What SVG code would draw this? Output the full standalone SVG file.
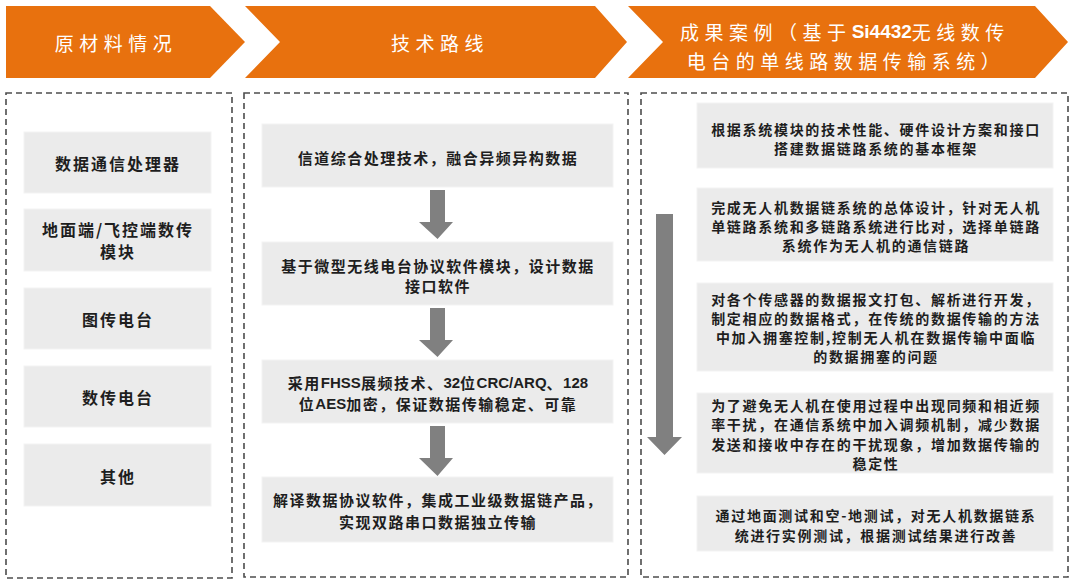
<svg xmlns="http://www.w3.org/2000/svg" width="1080" height="587" viewBox="0 0 1080 587">
<style>
.hdr{fill:#E8710E}
.ht{fill:#ffffff;font-family:"Noto Sans CJK SC","Noto Sans",sans-serif;font-size:19px;letter-spacing:5.5px;text-anchor:middle;dominant-baseline:central}
.frame{fill:none;stroke:#4d4d4d;stroke-width:1.6;stroke-dasharray:6 4}
.box{fill:#EBEBEB;stroke:#F3F3F3;stroke-width:1}
.tl{fill:#1e1e1e;font-family:"Noto Sans CJK SC","Noto Sans",sans-serif;font-weight:700;font-size:16px;letter-spacing:2px;text-anchor:middle;dominant-baseline:central}
.tm{fill:#1e1e1e;font-family:"Noto Sans CJK SC","Noto Sans",sans-serif;font-weight:700;font-size:15px;letter-spacing:1.5px;text-anchor:middle;dominant-baseline:central}
.tr{fill:#1e1e1e;font-family:"Noto Sans CJK SC","Noto Sans",sans-serif;font-weight:700;font-size:14px;letter-spacing:1.7px;text-anchor:middle;dominant-baseline:central}
.lat{font-family:"Liberation Sans",Arial,sans-serif;font-weight:700;letter-spacing:0}
.arr{fill:#808080}
</style>
<rect width="1080" height="587" fill="#ffffff"/>

<g id="header1">
<polygon class="hdr" points="6,6 210,6 245,42 210,78 6,78"/>
<text class="ht" x="116" y="42">原材料情况</text>
</g>
<g id="header2">
<polygon class="hdr" points="245,6 595,6 627,42 595,78 245,78 280,42"/>
<text class="ht" x="440" y="42">技术路线</text>
</g>
<g id="header3">
<polygon class="hdr" points="628,6 1035,6 1068,42 1035,78 628,78 663,42"/>
<text class="ht" x="845" y="31">成果案例（基于<tspan class="lat">Si4432</tspan>无线数传</text>
<text class="ht" x="846" y="60">电台的单线路数据传输系统）</text>
</g>

<g id="frame-materials"><rect class="frame" x="6" y="93" width="226" height="485"/></g>
<g id="frame-tech"><rect class="frame" x="244" y="93" width="384" height="484"/></g>
<g id="frame-results"><rect class="frame" x="641" y="93" width="427" height="484"/></g>

<g id="m1"><rect class="box" x="24" y="132" width="187" height="61"/><text class="tl" x="118" y="163">数据通信处理器</text></g>
<g id="m2"><rect class="box" x="24" y="209" width="187" height="62"/><text class="tl" x="118" y="229">地面端/飞控端数传</text><text class="tl" x="118" y="251">模块</text></g>
<g id="m3"><rect class="box" x="24" y="288" width="187" height="61"/><text class="tl" x="118" y="319">图传电台</text></g>
<g id="m4"><rect class="box" x="24" y="366" width="187" height="61"/><text class="tl" x="118" y="397">数传电台</text></g>
<g id="m5"><rect class="box" x="24" y="444" width="187" height="62"/><text class="tl" x="118" y="476">其他</text></g>

<g id="t1"><rect class="box" x="262" y="124" width="351" height="63"/><text class="tm" x="438" y="157">信道综合处理技术，融合异频异构数据</text></g>
<g id="t2"><rect class="box" x="262" y="242" width="351" height="63"/><text class="tm" x="438" y="265">基于微型无线电台协议软件模块，设计数据</text><text class="tm" x="438" y="285">接口软件</text></g>
<g id="t3"><rect class="box" x="262" y="360" width="351" height="63"/><text class="tm" x="438" y="382">采用<tspan class="lat">FHSS</tspan>展频技术、<tspan class="lat">32</tspan>位<tspan class="lat">CRC/ARQ</tspan>、<tspan class="lat">128</tspan></text><text class="tm" x="438" y="403">位<tspan class="lat">AES</tspan>加密，保证数据传输稳定、可靠</text></g>
<g id="t4"><rect class="box" x="262" y="477" width="351" height="65"/><text class="tm" x="438" y="499">解译数据协议软件，集成工业级数据链产品，</text><text class="tm" x="438" y="521">实现双路串口数据独立传输</text></g>

<g id="r1"><rect class="box" x="697" y="103" width="356" height="65"/><text class="tr" x="876" y="129">根据系统模块的技术性能、硬件设计方案和接口</text><text class="tr" x="876" y="148">搭建数据链路系统的基本框架</text></g>
<g id="r2"><rect class="box" x="697" y="188" width="356" height="73"/><text class="tr" x="876" y="207">完成无人机数据链系统的总体设计，针对无人机</text><text class="tr" x="876" y="226">单链路系统和多链路系统进行比对，选择单链路</text><text class="tr" x="876" y="245">系统作为无人机的通信链路</text></g>
<g id="r3"><rect class="box" x="697" y="283" width="356" height="88"/><text class="tr" x="876" y="299">对各个传感器的数据报文打包、解析进行开发，</text><text class="tr" x="876" y="318">制定相应的数据格式，在传统的数据传输的方法</text><text class="tr" x="876" y="337">中加入拥塞控制,控制无人机在数据传输中面临</text><text class="tr" x="876" y="356">的数据拥塞的问题</text></g>
<g id="r4"><rect class="box" x="697" y="393" width="356" height="80"/><text class="tr" x="876" y="405">为了避免无人机在使用过程中出现同频和相近频</text><text class="tr" x="876" y="424">率干扰，在通信系统中加入调频机制，减少数据</text><text class="tr" x="876" y="444">发送和接收中存在的干扰现象，增加数据传输的</text><text class="tr" x="876" y="463">稳定性</text></g>
<g id="r5"><rect class="box" x="697" y="496" width="356" height="55"/><text class="tr" x="876" y="515">通过地面测试和空-地测试，对无人机数据链系</text><text class="tr" x="876" y="535">统进行实例测试，根据测试结果进行改善</text></g>

<g id="connectors">
<polygon class="arr" points="430,190 445,190 445,222 453,222 437.5,239 419,222 430,222"/>
<polygon class="arr" points="430,308 445,308 445,340 453,340 437.5,357 419,340 430,340"/>
<polygon class="arr" points="430,426 445,426 445,458 453,458 437.5,476 419,458 430,458"/>
<polygon class="arr" points="656,214 673,214 673,437 682,437 664.5,455 647,437 656,437"/>
</g>
</svg>
